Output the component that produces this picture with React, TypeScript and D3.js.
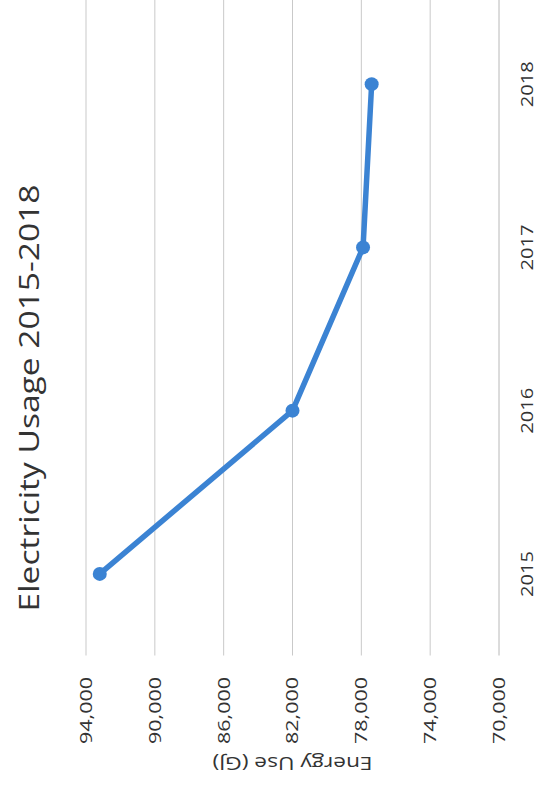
import React from 'react';
import * as d3 from 'd3';

// Annual electricity usage
const years: string[] = ['2015', '2016', '2017', '2018'];
const usage: number[] = [93200, 82000, 77900, 77400];
const valueTicks: number[] = [70000, 74000, 78000, 82000, 86000, 90000, 94000];
const chartTitle = 'Electricity Usage 2015-2018';
const valueAxisTitle = 'Energy Use (GJ)';

// The chart is laid out landscape (W x H) and turned a quarter turn onto the portrait page.
const PAGE_W = 539;
const PAGE_H = 793;
const W = PAGE_H;

const FONT = '"Open Sans", "Liberation Sans", sans-serif';
const LINE_COLOR = '#3b83d3';
const GRID_COLOR = '#c9c9c9';
const TEXT_COLOR = '#333333';

const plotLeft = 137.5;
const plotRight = 790.5;

const x = d3.scalePoint<string>().domain(years).range([plotLeft, plotRight]).padding(0.5);
const y = d3.scaleLinear().domain([70000, 94000]).range([499, 86]);

const fmt = d3.format(',');

const points = years.map((yr, i) => ({ yr, v: usage[i] }));
const linePath = d3
  .line<{ yr: string; v: number }>()
  .x((d) => x(d.yr) as number)
  .y((d) => y(d.v))(points);

export default function App() {
  return (
    <svg
      width={PAGE_W}
      height={PAGE_H}
      style={{ position: 'absolute', left: 0, top: 0, display: 'block', background: '#fff' }}
      fontFamily={FONT}
    >
      <g transform={`translate(0,${PAGE_H}) rotate(-90)`}>
        {/* value gridlines */}
        {valueTicks.map((t) => (
          <line
            key={`g${t}`}
            x1={plotLeft}
            x2={W}
            y1={y(t)}
            y2={y(t)}
            stroke={t === 70000 ? '#b8b8b8' : GRID_COLOR}
            strokeWidth={1}
          />
        ))}

        {/* value tick labels */}
        {valueTicks.map((t) => (
          <text
            key={`t${t}`}
            x={116}
            y={y(t)}
            dy="0.36em"
            textAnchor="end"
            fontSize={16.5}
            fill={TEXT_COLOR}
            textLength={67}
            lengthAdjust="spacingAndGlyphs"
          >
            {fmt(t)}
          </text>
        ))}

        {/* category labels */}
        {years.map((yr) => (
          <text
            key={`c${yr}`}
            x={x(yr) as number}
            y={532.5}
            textAnchor="middle"
            fontSize={17}
            fill={TEXT_COLOR}
            textLength={46}
            lengthAdjust="spacingAndGlyphs"
          >
            {yr}
          </text>
        ))}

        {/* value axis title */}
        <text
          transform={`translate(36,${(y(70000) + y(94000)) / 2}) rotate(-90)`}
          textAnchor="middle"
          fontSize={19}
          fill={TEXT_COLOR}
          textLength={160}
          lengthAdjust="spacingAndGlyphs"
        >
          {valueAxisTitle}
        </text>

        {/* chart title */}
        <text
          x={395}
          y={39}
          textAnchor="middle"
          fontSize={26.5}
          fill={TEXT_COLOR}
          textLength={427}
          lengthAdjust="spacingAndGlyphs"
        >
          {chartTitle}
        </text>

        {/* usage line */}
        <path
          d={linePath ?? ''}
          fill="none"
          stroke={LINE_COLOR}
          strokeWidth={5.5}
          strokeLinejoin="round"
          strokeLinecap="round"
        />
        {points.map((d) => (
          <circle key={`p${d.yr}`} cx={x(d.yr) as number} cy={y(d.v)} r={7} fill={LINE_COLOR} />
        ))}
      </g>
    </svg>
  );
}
